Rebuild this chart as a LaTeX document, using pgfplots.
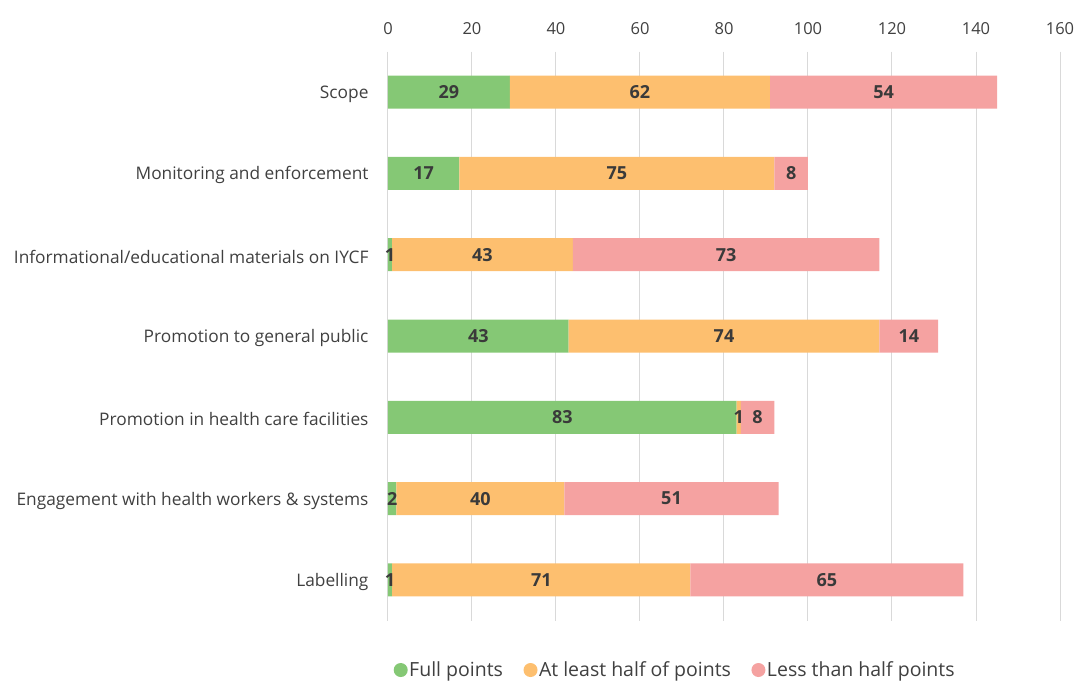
\documentclass[border=0pt]{standalone}
\usepackage{fontspec}
\setmainfont{Open Sans}
\usepackage{pgfplots}
\pgfplotsset{compat=1.18}
\usepackage{pgfplotstable}
\definecolor{cfull}{HTML}{85C875}
\definecolor{chalf}{HTML}{FDBF6F}
\definecolor{cless}{HTML}{F5A2A1}
\definecolor{txt}{HTML}{404040}
\definecolor{lbl}{HTML}{3A3A3A}
\definecolor{gridc}{HTML}{D9D9D9}
\pgfplotsset{dotlegend/.style={legend image code/.code={\fill[##1] (0pt,0pt) circle (7pt);}}}
\pgfplotstableread{
y full half less
0 29 62 54
1 17 75 8
2 1 43 73
3 43 74 14
4 83 1 8
5 2 40 51
6 1 71 65
}\datatable
\begin{document}
\begin{tikzpicture}
\begin{axis}[
  scale only axis,
  width=672pt, height=569pt,
  xbar, bar width=33pt, bar shift=0pt,
  xmin=0, xmax=160, ymin=-0.5, ymax=6.5,
  y dir=reverse,
  axis x line*=top, axis y line*=left,
  x axis line style={draw=none}, y axis line style={draw=none},
  major tick length=0pt,
  xtick={0,20,...,160},
  ytick={0,...,6},
  yticklabels={Scope,Monitoring and enforcement,Informational/educational materials on IYCF,Promotion to general public,Promotion in health care facilities,Engagement with health workers \& systems,Labelling},
  xmajorgrids, grid style={gridc, line width=1pt},
  /pgf/number format/assume math mode=true,
  xticklabel style={font=\fontsize{16.5}{19}\selectfont, text=txt, yshift=13pt},
  yticklabel style={font=\fontsize{17.3}{20}\selectfont, text=txt, xshift=-16pt, yshift=-2pt},
  legend style={at={(0.427,-0.087)}, anchor=center, draw=none, legend columns=3,
    font=\fontsize{19.5}{22}\selectfont, text=txt, nodes={inner xsep=1.5pt},
    /tikz/every even column/.append style={column sep=19pt}},
  legend cell align=left,
  labelplot/.style={draw=none, fill=none, forget plot, stack plots=false,
    point meta=explicit, nodes near coords,
    every node near coord/.append style={anchor=center, font=\fontsize{18}{20}\selectfont\bfseries, text=lbl}},
]
\addplot[fill=cfull, draw=none, stack plots=x, dotlegend] table[x=full,y=y]{\datatable};
\addplot[fill=chalf, draw=none, stack plots=x, dotlegend] table[x=half,y=y]{\datatable};
\addplot[fill=cless, draw=none, stack plots=x, dotlegend] table[x=less,y=y]{\datatable};
\legend{Full points, At least half of points, Less than half points}
\addplot[labelplot] table[x expr=\thisrow{full}/2, y=y, meta=full]{\datatable};
\addplot[labelplot] table[x expr=\thisrow{full}+\thisrow{half}/2, y=y, meta=half]{\datatable};
\addplot[labelplot] table[x expr=\thisrow{full}+\thisrow{half}+\thisrow{less}/2, y=y, meta=less]{\datatable};
\end{axis}
\pgfresetboundingbox
\path ([shift={(-388pt,-61.5pt)}]current axis.south west) rectangle ([shift={(19pt,51.5pt)}]current axis.north east);
\end{tikzpicture}
\end{document}
